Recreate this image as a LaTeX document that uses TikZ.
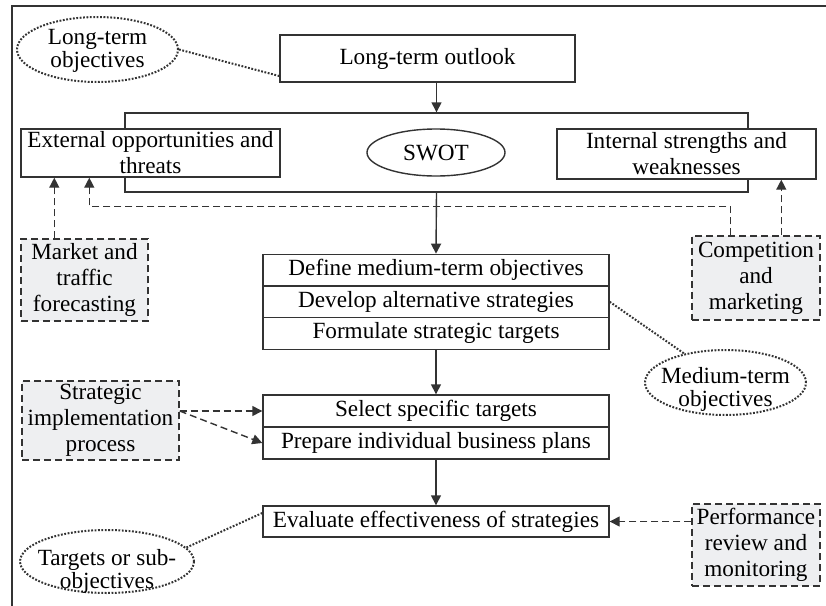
\documentclass[tikz,border=0pt]{standalone}
\usepackage{fontspec}
\setmainfont{Liberation Serif}
\usetikzlibrary{shapes.geometric,arrows.meta,calc}
\definecolor{ink}{HTML}{333333}
\definecolor{pale}{HTML}{EEEFF1}

\begin{document}
\begin{tikzpicture}[x=0.5pt,y=-0.5pt,
  every node/.style={font=\fontsize{11.6}{13}\selectfont, inner sep=0pt, align=center},
  box/.style={rectangle, draw=ink, line width=0.7pt, fill=white},
  aux/.style={rectangle, draw=ink, line width=0.7pt, fill=pale, dash pattern=on 3.5pt off 2pt},
  note/.style={ellipse, draw=ink, line width=1pt, dash pattern=on 0.9pt off 0.8pt},
  notetext/.style={font=\fontsize{11.6}{11.5}\selectfont},
  arr/.style={draw=ink, line width=0.7pt, -{Triangle[length=5pt,width=5pt]}},
  darr/.style={arr, dash pattern=on 3.5pt off 2pt},
  dots/.style={draw=ink, line width=1pt, dash pattern=on 0.9pt off 0.8pt}
]
\useasboundingbox (0,0) rectangle (826,606);

% page frame
\draw[ink, line width=0.8pt] (826,6) -- (12,6) -- (12,606);

% long-term level
\node[note, minimum width=80.5pt, minimum height=32.5pt] (ltobj) at (97.5,49.5) {};
\node[notetext] (ltobjtext) at (97.5,51) {Long-term\\objectives};
\node[box, minimum width=147.5pt, minimum height=23.5pt] (outlook) at (427.5,58.5) {Long-term outlook};

% SWOT frame with the two analysis boxes
\node[box, minimum width=311.5pt, minimum height=39.5pt] (swotbox) at (436.5,152.5) {};
\node[box, minimum width=129.5pt, minimum height=24pt] (ext) at (150.5,153) {External opportunities and\\threats};
\node[box, minimum width=129.5pt, minimum height=25pt] (int) at (686.5,154) {Internal strengths and\\weaknesses};
\node[ellipse, draw=ink, line width=0.7pt, minimum width=69pt, minimum height=23.5pt] (swot) at (436,152.5) {SWOT};

% external inputs
\node[aux, minimum width=63.5pt, minimum height=41pt] (market) at (84.5,280) {Market and\\traffic\\forecasting};
\node[aux, minimum width=64pt, minimum height=42pt] (comp) at (756,278) {Competition\\and\\marketing};

% medium-term level
\node[box, minimum width=173pt, minimum height=15.8pt] (def1) at (436,270.2) {Define medium-term objectives};
\node[box, minimum width=173pt, minimum height=15.8pt] (def2) at (436,301.8) {Develop alternative strategies};
\node[box, minimum width=173pt, minimum height=15.8pt] (def3) at (436,333.4) {Formulate strategic targets};
\node[note, minimum width=80.5pt, minimum height=32.5pt] (mto) at (725.5,382.5) {};
\node[notetext] (mtotext) at (725.5,389) {Medium-term\\objectives};

% implementation level
\node[aux, minimum width=78.5pt, minimum height=39.5pt] (strat) at (100.5,420.5) {Strategic\\implementation\\process};
\node[box, minimum width=173pt, minimum height=16pt] (select) at (436,411) {Select specific targets};
\node[box, minimum width=173pt, minimum height=16pt] (prepare) at (436,443) {Prepare individual business plans};

% evaluation level
\node[box, minimum width=173pt, minimum height=15.5pt] (eval) at (436,521.5) {Evaluate effectiveness of strategies};
\node[aux, minimum width=64pt, minimum height=41pt] (perf) at (756,545) {Performance\\review and\\monitoring};
\node[note, minimum width=87pt, minimum height=31.5pt] (tso) at (107,561.5) {};
\node[notetext, font=\fontsize{11.6}{9.5}\selectfont] (tsotext) at (107,571) {Targets or sub-\\objectives};

% main flow
\draw[arr] (outlook.south -| swotbox.north) -- (swotbox.north);
\draw[arr] (swotbox.south) -- (def1.north);
\draw[arr] (def3.south) -- (select.north);
\draw[arr] (prepare.south) -- (eval.north);

% dashed inputs
\draw[darr] ([xshift=17pt]market.north west) -- ([xshift=17pt]market.north west |- ext.south);
\draw[darr] ([xshift=19.5pt]comp.north west) -- ++(0,-29) -| ([xshift=34.5pt]ext.south west);
\draw[darr] ([xshift=45pt]comp.north west) -- ([xshift=45pt]comp.north west |- int.south);
\draw[darr] (strat.east |- select.west) -- (select.west);
\draw[darr] (strat.east |- select.west) -- (prepare.west);
\draw[darr] (perf.west |- eval.east) -- (eval.east);

% dotted annotations
\draw[dots] (ltobj.east) -- ([yshift=-8.75pt]outlook.west);
\draw[dots] (def2.east) -- (mto.145);
\draw[dots] ([yshift=4.25pt]eval.west) -- (tso.10);
\end{tikzpicture}
\end{document}
